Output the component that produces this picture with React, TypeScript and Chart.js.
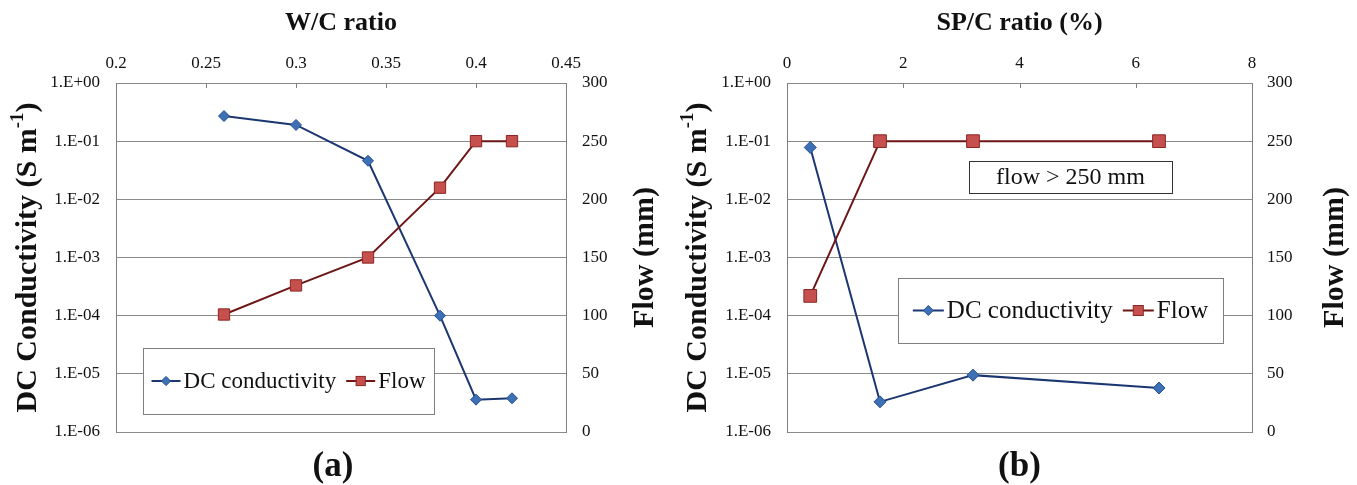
import React, { useEffect, useRef } from 'react';
import { Chart, registerables } from 'chart.js';

Chart.register(...registerables);

// ---------------- data ----------------
const wcRatio = [0.26, 0.3, 0.34, 0.38, 0.4, 0.42];
const wcConductivity = [0.27, 0.19, 0.046, 1.0e-4, 3.6e-6, 3.8e-6];
const wcFlow = [101, 126, 150, 210, 250, 250];

const spRatio = [0.4, 1.6, 3.2, 6.4];
const spConductivity = [0.078, 3.3e-6, 9.5e-6, 5.7e-6];
const spFlow = [117, 250, 250, 250];

const wcTickValues = [0.2, 0.25, 0.3, 0.35, 0.4, 0.45];
const wcTickLabels = ['0.2', '0.25', '0.3', '0.35', '0.4', '0.45'];
const spTickValues = [0, 2, 4, 6, 8];
const spTickLabels = ['0', '2', '4', '6', '8'];
const conductivityTickValues = [1e-6, 1e-5, 1e-4, 1e-3, 1e-2, 1e-1, 1];
const conductivityTickLabels = ['1.E-06', '1.E-05', '1.E-04', '1.E-03', '1.E-02', '1.E-01', '1.E+00'];
const flowTickValues = [0, 50, 100, 150, 200, 250, 300];
const flowTickLabels = ['0', '50', '100', '150', '200', '250', '300'];

const seriesNames = ['DC conductivity', 'Flow'];
const noteText = 'flow > 250 mm';

// ---------------- style ----------------
const FONT = "'Liberation Serif', 'Times New Roman', serif";
const TEXT = '#111111';
const AXIS = '#7f7f7f';
const GRID = '#8a8a8a';
const DC_LINE = '#1b3670';
const DC_FILL = '#3d70b4';
const DC_EDGE = '#24508f';
const FLOW_LINE = '#6e1515';
const FLOW_FILL = '#c5504d';
const FLOW_EDGE = '#8a2624';
const H = 485;

type Panel = {
  key: string;
  xTitle: string;
  label: string;
  labelDx: number;
  xs: number[];
  dc: number[];
  flow: number[];
  xTicks: number[];
  xLabels: string[];
  xMin: number;
  xMax: number;
  offset: number;
  width: number;
  area: { left: number; right: number; top: number; bottom: number };
  yPad: number;
  y1Pad: number;
  yTitleX: number;
  y1TitleX: number;
  diamond: number;
  square: number;
  legend: { left: number; top: number; width: number; height: number; font: number };
  note?: { left: number; top: number; width: number; height: number; font: number };
};

const panels: Panel[] = [
  {
    key: 'a',
    xTitle: 'W/C ratio',
    label: '(a)',
    labelDx: -8,
    xs: wcRatio,
    dc: wcConductivity,
    flow: wcFlow,
    xTicks: wcTickValues,
    xLabels: wcTickLabels,
    xMin: 0.2,
    xMax: 0.45,
    offset: 0,
    width: 680,
    area: { left: 116, right: 566, top: 83, bottom: 432 },
    yPad: 16,
    y1Pad: 16,
    yTitleX: 26,
    y1TitleX: 643,
    diamond: 5.5,
    square: 8,
    legend: { left: 143, top: 348, width: 291, height: 66, font: 23 },
  },
  {
    key: 'b',
    xTitle: 'SP/C ratio (%)',
    label: '(b)',
    labelDx: 0,
    xs: spRatio,
    dc: spConductivity,
    flow: spFlow,
    xTicks: spTickValues,
    xLabels: spTickLabels,
    xMin: 0,
    xMax: 8,
    offset: 680,
    width: 677,
    area: { left: 107, right: 572, top: 83, bottom: 432 },
    yPad: 16,
    y1Pad: 15,
    yTitleX: 16,
    y1TitleX: 653,
    diamond: 6,
    square: 9,
    legend: { left: 218, top: 278, width: 325, height: 65, font: 25 },
    note: { left: 289, top: 161, width: 203, height: 32, font: 24 },
  },
];

function drawRotatedTitle(ctx: CanvasRenderingContext2D, parts: { t: string; sup?: boolean }[], cx: number, cy: number, size: number) {
  ctx.save();
  ctx.translate(cx, cy);
  ctx.rotate(-Math.PI / 2);
  const big = `bold ${size}px ${FONT}`;
  const small = `bold ${Math.round(size * 0.62)}px ${FONT}`;
  let total = 0;
  const widths = parts.map((p) => {
    ctx.font = p.sup ? small : big;
    const w = ctx.measureText(p.t).width;
    total += w;
    return w;
  });
  let x = -total / 2;
  ctx.textAlign = 'left';
  ctx.textBaseline = 'alphabetic';
  ctx.fillStyle = TEXT;
  const base = size * 0.33;
  parts.forEach((p, i) => {
    ctx.font = p.sup ? small : big;
    ctx.fillText(p.t, x, p.sup ? base - size * 0.42 : base);
    x += widths[i];
  });
  ctx.restore();
}

function drawDiamond(ctx: CanvasRenderingContext2D, x: number, y: number, r: number) {
  ctx.beginPath();
  ctx.moveTo(x - r, y);
  ctx.lineTo(x, y - r);
  ctx.lineTo(x + r, y);
  ctx.lineTo(x, y + r);
  ctx.closePath();
  ctx.fillStyle = DC_FILL;
  ctx.fill();
  ctx.strokeStyle = DC_EDGE;
  ctx.lineWidth = 1;
  ctx.stroke();
}

function drawSquare(ctx: CanvasRenderingContext2D, x: number, y: number, s: number) {
  ctx.fillStyle = FLOW_FILL;
  ctx.fillRect(x - s / 2, y - s / 2, s, s);
  ctx.strokeStyle = FLOW_EDGE;
  ctx.lineWidth = 1;
  ctx.strokeRect(x - s / 2, y - s / 2, s, s);
}

function decorPlugin(p: Panel) {
  return {
    id: 'decor' + p.key,
    afterDraw(chart: any) {
      const ctx: CanvasRenderingContext2D = chart.ctx;
      const a = chart.chartArea;
      const xs = chart.scales.x;
      ctx.save();
      // inside tick marks along the top axis
      ctx.strokeStyle = AXIS;
      ctx.lineWidth = 1;
      p.xTicks.forEach((v) => {
        if (v <= p.xMin || v >= p.xMax) return;
        const px = Math.round(xs.getPixelForValue(v)) + 0.5;
        ctx.beginPath();
        ctx.moveTo(px, a.top);
        ctx.lineTo(px, a.top + 5);
        ctx.stroke();
      });

      const cx = (a.left + a.right) / 2;
      const cy = (a.top + a.bottom) / 2;
      ctx.fillStyle = TEXT;
      ctx.textAlign = 'center';
      ctx.textBaseline = 'middle';
      ctx.font = `bold 26px ${FONT}`;
      ctx.fillText(p.xTitle, cx, 23);
      ctx.font = `bold 35px ${FONT}`;
      ctx.fillText(p.label, cx + p.labelDx, 467);

      drawRotatedTitle(ctx, [{ t: 'DC Conductivity (S m' }, { t: '-1', sup: true }, { t: ')' }], p.yTitleX, cy, 30);
      drawRotatedTitle(ctx, [{ t: 'Flow (mm)' }], p.y1TitleX, cy, 30);

      // legend
      const L = p.legend;
      ctx.fillStyle = '#ffffff';
      ctx.fillRect(L.left, L.top, L.width, L.height);
      ctx.strokeStyle = AXIS;
      ctx.lineWidth = 1;
      ctx.strokeRect(L.left + 0.5, L.top + 0.5, L.width, L.height);
      ctx.font = `${L.font}px ${FONT}`;
      const lineLen = Math.round(L.font * 1.25);
      const gapText = 3;
      const gapItem = 10;
      const w0 = ctx.measureText(seriesNames[0]).width;
      const w1 = ctx.measureText(seriesNames[1]).width;
      const total = lineLen + gapText + w0 + gapItem + lineLen + gapText + w1;
      let x = L.left + (L.width - total) / 2;
      const my = L.top + L.height / 2;
      // DC
      ctx.strokeStyle = DC_LINE;
      ctx.lineWidth = 2;
      ctx.beginPath();
      ctx.moveTo(x, my);
      ctx.lineTo(x + lineLen, my);
      ctx.stroke();
      drawDiamond(ctx, x + lineLen / 2, my, L.font * 0.2);
      x += lineLen + gapText;
      ctx.fillStyle = TEXT;
      ctx.textAlign = 'left';
      ctx.textBaseline = 'middle';
      ctx.font = `${L.font}px ${FONT}`;
      ctx.fillText(seriesNames[0], x, my + 1);
      x += w0 + gapItem;
      // Flow
      ctx.strokeStyle = FLOW_LINE;
      ctx.lineWidth = 2;
      ctx.beginPath();
      ctx.moveTo(x, my);
      ctx.lineTo(x + lineLen, my);
      ctx.stroke();
      drawSquare(ctx, x + lineLen / 2, my, L.font * 0.4);
      x += lineLen + gapText;
      ctx.fillStyle = TEXT;
      ctx.font = `${L.font}px ${FONT}`;
      ctx.fillText(seriesNames[1], x, my + 1);

      // note box
      if (p.note) {
        const N = p.note;
        ctx.fillStyle = '#ffffff';
        ctx.fillRect(N.left, N.top, N.width, N.height);
        ctx.strokeStyle = '#333333';
        ctx.lineWidth = 1;
        ctx.strokeRect(N.left + 0.5, N.top + 0.5, N.width, N.height);
        ctx.fillStyle = TEXT;
        ctx.textAlign = 'center';
        ctx.textBaseline = 'middle';
        ctx.font = `${N.font}px ${FONT}`;
        ctx.fillText(noteText, N.left + N.width / 2, N.top + N.height / 2 + 1);
      }
      ctx.restore();
    },
  };
}

function makeConfig(p: Panel): any {
  const tickFont = { family: FONT, size: 17 };
  return {
    type: 'line',
    data: {
      datasets: [
        {
          label: seriesNames[0],
          data: p.xs.map((x, i) => ({ x, y: p.dc[i] })),
          yAxisID: 'y',
          borderColor: DC_LINE,
          borderWidth: 2,
          pointStyle: 'rectRot',
          pointRadius: p.diamond,
          pointBackgroundColor: DC_FILL,
          pointBorderColor: DC_EDGE,
          pointBorderWidth: 1,
          tension: 0,
          order: 2,
        },
        {
          label: seriesNames[1],
          data: p.xs.map((x, i) => ({ x, y: p.flow[i] })),
          yAxisID: 'y1',
          borderColor: FLOW_LINE,
          borderWidth: 2,
          pointStyle: 'rect',
          pointRadius: p.square,
          pointBackgroundColor: FLOW_FILL,
          pointBorderColor: FLOW_EDGE,
          pointBorderWidth: 1,
          tension: 0,
          order: 1,
        },
      ],
    },
    options: {
      animation: false,
      responsive: false,
      maintainAspectRatio: false,
      events: [],
      layout: { padding: { top: 0, left: 0, right: 0, bottom: H - p.area.bottom } },
      plugins: { legend: { display: false }, tooltip: { enabled: false }, title: { display: false } },
      scales: {
        x: {
          type: 'linear',
          position: 'top',
          min: p.xMin,
          max: p.xMax,
          afterBuildTicks: (s: any) => {
            s.ticks = p.xTicks.map((v) => ({ value: v }));
          },
          afterFit: (s: any) => {
            s.height = p.area.top;
          },
          ticks: {
            autoSkip: false,
            maxRotation: 0,
            padding: 9,
            color: TEXT,
            font: tickFont,
            callback: (_v: any, i: number) => p.xLabels[i],
          },
          grid: { display: false, drawTicks: false },
          border: { display: false },
        },
        y: {
          type: 'logarithmic',
          position: 'left',
          min: 1e-6,
          max: 1,
          afterBuildTicks: (s: any) => {
            s.ticks = conductivityTickValues.map((v) => ({ value: v }));
          },
          afterFit: (s: any) => {
            s.width = p.area.left;
          },
          ticks: {
            autoSkip: false,
            padding: p.yPad,
            color: TEXT,
            font: tickFont,
            callback: (_v: any, i: number) => conductivityTickLabels[i],
          },
          grid: { color: GRID, lineWidth: 1, drawTicks: false },
          border: { display: true, color: AXIS, width: 1 },
        },
        y1: {
          type: 'linear',
          position: 'right',
          min: 0,
          max: 300,
          afterBuildTicks: (s: any) => {
            s.ticks = flowTickValues.map((v) => ({ value: v }));
          },
          afterFit: (s: any) => {
            s.width = p.width - p.area.right;
          },
          ticks: {
            autoSkip: false,
            padding: p.y1Pad,
            color: TEXT,
            font: tickFont,
            callback: (_v: any, i: number) => flowTickLabels[i],
          },
          grid: { drawOnChartArea: false, drawTicks: false },
          border: { display: true, color: AXIS, width: 1 },
        },
      },
    },
    plugins: [decorPlugin(p)],
  };
}

function PanelChart({ panel }: { panel: Panel }) {
  const ref = useRef<HTMLCanvasElement>(null);
  useEffect(() => {
    if (!ref.current) return;
    const chart = new Chart(ref.current, makeConfig(panel));
    return () => chart.destroy();
  }, [panel]);
  return (
    <canvas
      ref={ref}
      width={panel.width}
      height={H}
      style={{ position: 'absolute', left: panel.offset, top: 0, width: panel.width, height: H }}
    />
  );
}

export default function App() {
  return (
    <div style={{ position: 'fixed', left: 0, top: 0, width: 1357, height: H, background: '#ffffff', overflow: 'hidden' }}>
      {panels.map((p) => (
        <PanelChart key={p.key} panel={p} />
      ))}
    </div>
  );
}
